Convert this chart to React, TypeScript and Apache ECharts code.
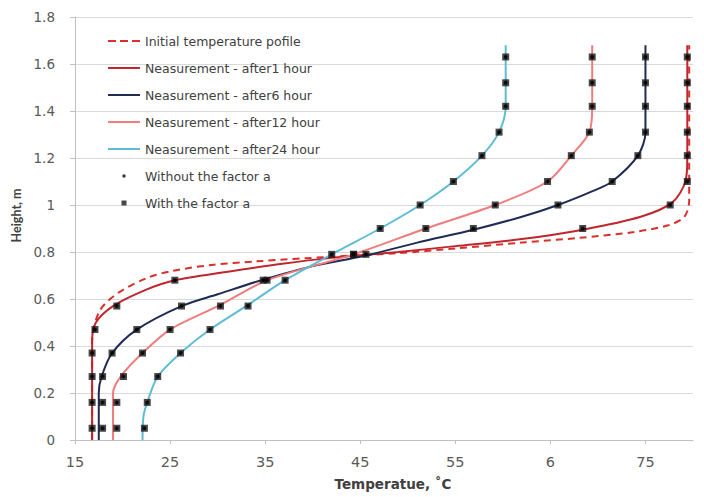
import React, { useEffect, useRef } from 'react';
import * as echarts from 'echarts';

// Measured profiles: [temperature °C, height m]
const INITIAL_PROFILE = [[16.8, 0], [16.8, 0.42], [17.6, 0.55], [19.5, 0.625], [22.6, 0.69], [25.3, 0.72], [29.4, 0.745], [34, 0.76], [42, 0.78], [49, 0.795], [55, 0.815], [62, 0.84], [68, 0.86], [73.8, 0.885], [77.5, 0.915], [79.1, 0.95], [79.6, 1.02], [79.6, 1.68]];
const MEAS_1H = [[16.8, 0], [16.8, 0.2], [16.8, 0.42], [17.2, 0.5], [19.0, 0.57], [22.5, 0.64], [25.5, 0.68], [30.9, 0.715], [36.8, 0.75], [42, 0.775], [49, 0.8], [55, 0.825], [62, 0.855], [68.4, 0.895], [74.5, 0.95], [77.8, 1.01], [79.2, 1.1], [79.4, 1.2], [79.4, 1.68]];
const MEAS_6H = [[17.5, 0], [17.5, 0.2], [17.8, 0.27], [18.9, 0.37], [21.5, 0.47], [26.2, 0.57], [30, 0.62], [34.6, 0.68], [40, 0.74], [45.6, 0.785], [51, 0.84], [56.9, 0.895], [62, 0.95], [65.8, 1.0], [69.5, 1.06], [71.5, 1.1], [74.2, 1.21], [75, 1.31], [75, 1.42], [75, 1.68]];
const MEAS_12H = [[19.0, 0], [19.0, 0.2], [19.8, 0.27], [22.1, 0.37], [25, 0.47], [30.3, 0.575], [35.2, 0.68], [44.3, 0.79], [51.9, 0.9], [59.2, 1.0], [64.7, 1.1], [67.2, 1.21], [69.1, 1.31], [69.4, 1.42], [69.4, 1.68]];
const MEAS_24H = [[22.1, 0], [22.2, 0.1], [22.6, 0.16], [23.7, 0.27], [26.1, 0.37], [29.2, 0.47], [33.2, 0.575], [37.1, 0.68], [42, 0.79], [47.1, 0.9], [51.3, 1.0], [54.8, 1.1], [57.8, 1.21], [59.6, 1.31], [60.3, 1.42], [60.3, 1.68]];

// Model points at fixed heights
const MODEL_HEIGHTS = [0.05, 0.16, 0.27, 0.37, 0.47, 0.57, 0.68, 0.79, 0.9, 1.0, 1.1, 1.21, 1.31, 1.42, 1.52, 1.63];
const MODEL_1H = [16.8, 16.8, 16.8, 16.8, 17.1, 19.4, 25.5, 44.3, 68.4, 77.6, 79.4, 79.4, 79.4, 79.4, 79.4, 79.4];
const MODEL_6H = [17.9, 17.9, 17.9, 18.9, 21.5, 26.2, 34.8, 45.6, 56.9, 65.8, 71.5, 74.2, 75.0, 75.0, 75.0, 75.0];
const MODEL_12H = [19.4, 19.4, 20.1, 22.1, 25.0, 30.3, 35.2, 44.3, 51.9, 59.2, 64.7, 67.2, 69.1, 69.4, 69.4, 69.4];
const MODEL_24H = [22.3, 22.6, 23.7, 26.1, 29.2, 33.2, 37.1, 42.0, 47.1, 51.3, 54.8, 57.8, 59.6, 60.3, 60.3, 60.3];

const X_TICKS = [15, 25, 35, 45, 55, 65, 75];
const X_TICK_LABELS = ['15', '25', '35', '45', '55', '6', '75'];

const NAMES = [
  'Initial temperature pofile',
  'Neasurement - after1 hour',
  'Neasurement - after6 hour',
  'Neasurement - after12 hour',
  'Neasurement - after24 hour',
  'Without the factor a',
  'With the factor a',
];

const ICON_LINE = 'path://M0,0M32,8M0,3h32v2h-32z';
const ICON_DASH = 'path://M0,0M32,8M0,3h8v2h-8zM12,3h8v2h-8zM24,3h8v2h-8z';
const ICON_DOT = 'path://M0,0M32,8M14.5,2.5h3v3h-3z';
const ICON_SQUARE = 'path://M0,0M32,8M13.5,1.5h5v5h-5z';

export default function App() {
  const ref = useRef<HTMLDivElement>(null);
  useEffect(() => {
    const chart = echarts.init(ref.current as HTMLDivElement, null, { renderer: 'svg' });
    const font = '"DejaVu Sans", "Open Sans", sans-serif';
    const modelPoints: number[][] = [];
    [MODEL_1H, MODEL_6H, MODEL_12H, MODEL_24H].forEach((arr) => {
      arr.forEach((t, i) => modelPoints.push([t, MODEL_HEIGHTS[i]]));
    });
    const lineSeries = (name: string, data: number[][], color: string, dashed = false) => ({
      name,
      type: 'line',
      data,
      smooth: 0.3,
      symbol: 'none',
      showSymbol: false,
      lineStyle: { color, width: 2, type: dashed ? [7, 5] : 'solid' },
      itemStyle: { color },
      z: 2,
    });
    chart.setOption({
      animation: false,
      backgroundColor: '#ffffff',
      textStyle: { fontFamily: font },
      grid: { left: 75, right: 11, top: 17, bottom: 57 },
      legend: {
        orient: 'vertical',
        left: 103,
        top: 28,
        itemWidth: 32,
        itemHeight: 8,
        itemGap: 11,
        data: [
          { name: NAMES[0], icon: ICON_DASH },
          { name: NAMES[1], icon: ICON_LINE },
          { name: NAMES[2], icon: ICON_LINE },
          { name: NAMES[3], icon: ICON_LINE },
          { name: NAMES[4], icon: ICON_LINE },
          { name: NAMES[5], icon: ICON_DOT },
          { name: NAMES[6], icon: ICON_SQUARE },
        ],
        textStyle: { color: '#404040', fontSize: 12.5, fontFamily: font, lineHeight: 16 },
      },
      xAxis: {
        type: 'value',
        min: 15,
        max: 80,
        interval: 5,
        name: 'Temperatue, ˚C',
        nameLocation: 'middle',
        nameGap: 37,
        nameTextStyle: { fontWeight: 'bold', fontSize: 13.5, color: '#404040', fontFamily: font, padding: [0, 0, 0, 18] },
        axisLine: { show: true, lineStyle: { color: '#BFBFBF' } },
        axisTick: { show: true, customValues: X_TICKS, length: 4, lineStyle: { color: '#BFBFBF' } },
        axisLabel: {
          customValues: X_TICKS,
          margin: 14,
          fontSize: 14.5,
          color: '#595959',
          formatter: (v: number) => X_TICK_LABELS[X_TICKS.indexOf(v)] ?? '',
        },
        splitLine: { show: false },
      },
      yAxis: {
        type: 'value',
        min: 0,
        max: 1.8,
        interval: 0.2,
        name: 'Height, m',
        nameLocation: 'middle',
        nameGap: 50,
        nameTextStyle: { fontWeight: 'bold', fontSize: 12.5, color: '#404040', fontFamily: 'Lato, sans-serif', padding: [0, 0, 0, 26] },
        axisLine: { show: true, lineStyle: { color: '#BFBFBF' } },
        axisTick: { show: true, length: 5, lineStyle: { color: '#BFBFBF' } },
        axisLabel: { margin: 20, fontSize: 13.5, color: '#595959' },
        splitLine: { show: true, lineStyle: { color: '#D9D9D9', width: 1 } },
      },
      series: [
        lineSeries(NAMES[0], INITIAL_PROFILE, '#D9302C', true),
        lineSeries(NAMES[1], MEAS_1H, '#C0262D'),
        lineSeries(NAMES[2], MEAS_6H, '#1F2A55'),
        lineSeries(NAMES[3], MEAS_12H, '#F07C7C'),
        lineSeries(NAMES[4], MEAS_24H, '#5DBCD4'),
        {
          name: NAMES[5],
          type: 'scatter',
          data: modelPoints,
          symbol: 'circle',
          symbolSize: 4,
          itemStyle: { color: '#000000' },
          z: 4,
        },
        {
          name: NAMES[6],
          type: 'scatter',
          data: modelPoints,
          symbol: 'rect',
          symbolSize: 7,
          itemStyle: { color: '#1a1a1a' },
          z: 3,
        },
      ],
    });
    return () => chart.dispose();
  }, []);
  return (
    <div
      ref={ref}
      style={{ position: 'fixed', left: 0, top: 0, width: 704, height: 497, background: '#fff' }}
    />
  );
}
